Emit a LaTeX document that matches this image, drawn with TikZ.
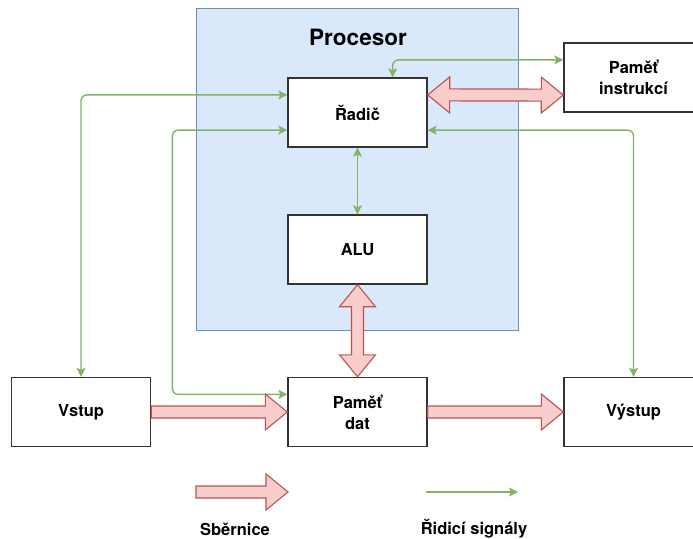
\documentclass[tikz,border=0pt]{standalone}
\usepackage{fontspec}
\setmainfont{TeX Gyre Heros}
\usetikzlibrary{calc,arrows.meta}

\definecolor{cpufill}{HTML}{DAE8FC}
\definecolor{cpuline}{HTML}{6C8EBF}
\definecolor{busfill}{HTML}{F8CECC}
\definecolor{busline}{HTML}{B85450}
\definecolor{ctlline}{HTML}{82B366}

\tikzset{
	unit/.style={draw=black!80, fill=white, line width=1.4pt, minimum width=139pt,
		minimum height=69pt, inner sep=0pt, align=center,
		font=\fontsize{16.5}{21}\selectfont\bfseries},
	bus/.style={draw=busline, fill=busfill, line width=1.1pt, line join=miter},
	ctl/.style={draw=ctlline, line width=1.4pt, rounded corners=6pt,
		>={Stealth[length=9pt,width=9pt,inset=2pt]}, <->},
	legend/.style={font=\fontsize{16.5}{21}\selectfont\bfseries}
}

% one-way bus arrow from #1 to #2
\newcommand{\busone}[2]{%
	\draw[bus] ($(#1)!6pt!90:(#2)$) -- ($(#2)!22pt!(#1)!6pt!90:(#2)$)
		-- ($(#2)!22pt!(#1)!18pt!90:(#2)$) -- (#2)
		-- ($(#2)!22pt!(#1)!18pt!-90:(#2)$) -- ($(#2)!22pt!(#1)!6pt!-90:(#2)$)
		-- ($(#1)!6pt!-90:(#2)$) -- cycle;}
% two-way bus arrow between #1 and #2
\newcommand{\bustwo}[2]{%
	\draw[bus] (#1) -- ($(#1)!22pt!(#2)!18pt!90:(#2)$) -- ($(#1)!22pt!(#2)!6pt!90:(#2)$)
		-- ($(#2)!22pt!(#1)!6pt!90:(#2)$) -- ($(#2)!22pt!(#1)!18pt!90:(#2)$) -- (#2)
		-- ($(#2)!22pt!(#1)!18pt!-90:(#2)$) -- ($(#2)!22pt!(#1)!6pt!-90:(#2)$)
		-- ($(#1)!22pt!(#2)!6pt!-90:(#2)$) -- ($(#1)!22pt!(#2)!18pt!-90:(#2)$) -- cycle;}

\begin{document}
\begin{tikzpicture}[x=1pt, y=-1pt]
	\useasboundingbox (0,0) rectangle (693,538);
	\clip (0,0) rectangle (693,538);

	% processor block
	\node[draw=cpuline, fill=cpufill, line width=1.3pt, minimum width=322pt,
		minimum height=322pt, inner sep=0pt] (cpu) at (357.5,169.5) {};
	\node[font=\fontsize{22.5}{27}\selectfont\bfseries] (cputitle) at (358,37) {Procesor};

	\node[unit] (radic) at (357.5,112.5) {Řadič};
	\node[unit] (alu) at (357.5,249.5) {ALU};
	\node[unit] (instr) at (633.5,77.5) {Paměť\\instrukcí};
	\node[unit] (vstup) at (81,412) {Vstup};
	\node[unit] (pdat) at (357.5,412) {Paměť\\dat};
	\node[unit] (vystup) at (633.5,412) {Výstup};

	% control signals
	\draw[ctl] ($(radic.north west)!0.75!(radic.north east)$) |- ($(instr.north west)!0.25!(instr.south west)$);
	\draw[ctl] ($(radic.north west)!0.25!(radic.south west)$) -| (vstup.north);
	\draw[ctl] ($(radic.north west)!0.75!(radic.south west)$) -- ++(-115,0) |- ($(pdat.north west)!0.25!(pdat.south west)$);
	\draw[ctl] ($(radic.north east)!0.75!(radic.south east)$) -| (vystup.north);
	\draw[ctl] (radic.south) -- (alu.north);

	% buses
	\coordinate (rbus) at ($(radic.north east)!0.25!(radic.south east)$);
	\coordinate (ibus) at ($(instr.north west)!0.75!(instr.south west)$);
	\bustwo{rbus}{ibus}
	\bustwo{alu.south}{pdat.north}
	\busone{vstup.east}{pdat.west}
	\busone{pdat.east}{vystup.west}

	% legend
	\coordinate (legbusA) at (196,492);
	\coordinate (legbusB) at (288,492);
	\coordinate (legctlA) at (426,492);
	\coordinate (legctlB) at (518,492);
	\busone{legbusA}{legbusB}
	\draw[ctl, ->] (legctlA) -- (legctlB);
	\node[legend] (legbus) at (235,529) {Sběrnice};
	\node[legend] (legctl) at (474,529) {Řidicí signály};
\end{tikzpicture}
\end{document}
